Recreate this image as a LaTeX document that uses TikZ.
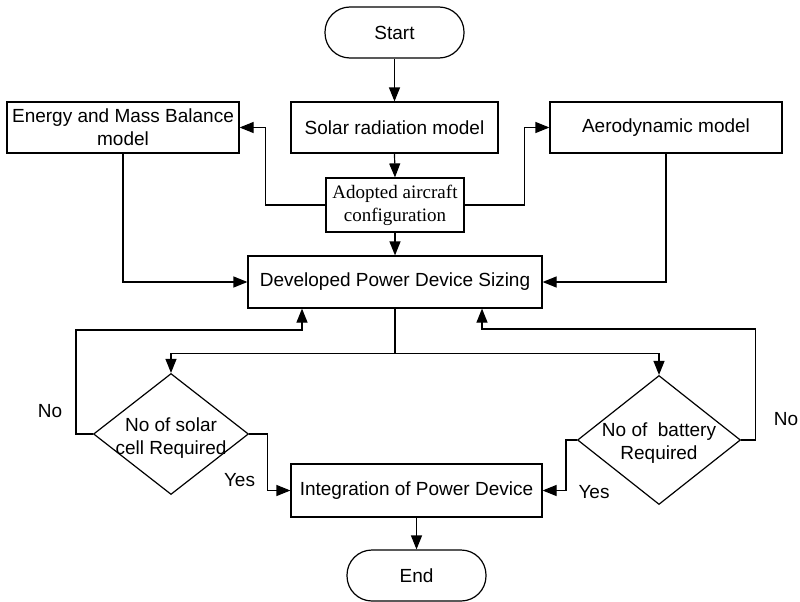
\documentclass[tikz,border=0pt]{standalone}
\usepackage{fontspec}
\setmainfont{Liberation Sans}
\newfontfamily\serifface{Liberation Serif}
\usetikzlibrary{arrows.meta,shapes.geometric}
\begin{document}
\begin{tikzpicture}[x=1pt,y=-1pt,
  font=\fontsize{19}{23}\selectfont,
  every node/.style={inner sep=0pt},
  box/.style={draw,line width=1.2pt,align=center},
  term/.style={draw,line width=1.2pt,rounded corners=25pt,minimum width=139pt,minimum height=51pt},
  dia/.style={draw,line width=1.2pt,diamond,inner sep=0pt},
  arr/.style={line width=1.2pt,-{Triangle[length=14pt,width=11pt]}},
  ln/.style={line width=1.2pt}]
\useasboundingbox (0,0) rectangle (800,602);
\node[term] (start) at (394.5,32.5) {Start};
\node[box,minimum width=207pt,minimum height=51pt] (solar) at (394.5,127.5) {Solar radiation model};
\node[box,minimum width=232pt,minimum height=51pt] (energy) at (123,127.5) {Energy and Mass Balance\\model};
\node[box,minimum width=232pt,minimum height=51pt] (aero) at (666,127.5) {Aerodynamic model};
\node[box,minimum width=138pt,minimum height=54pt,font=\serifface\fontsize{19}{23}\selectfont] (adopted) at (395,205) {Adopted aircraft\\configuration};
\node[box,minimum width=294pt,minimum height=52pt] (dev) at (395,282) {Developed Power Device Sizing};
\node[dia,minimum width=155pt,minimum height=121pt] (d1) at (171,434) {};
\node[align=center] (d1t) at (171,438) {No of solar\\cell Required};
\node[dia,minimum width=163pt,minimum height=129pt] (d2) at (659,440) {};
\node[align=center] (d2t) at (659,443) {No of\ \ battery\\Required};
\node[box,minimum width=251pt,minimum height=53pt] (integ) at (416.5,490.5) {Integration of Power Device};
\node[term] (end) at (416.5,575.5) {End};
\node[anchor=base] (no1) at (50,417) {No};
\node[anchor=base] (no2) at (786,425) {No};
\node[anchor=base] (yes1) at (239.5,486) {Yes};
\node[anchor=base] (yes2) at (594,498) {Yes};

\draw[arr] (start.south) -- (solar.north);
\draw[arr] (solar.south) -- (adopted.north);
\draw[arr] (adopted.west) -- ++(-60,0) |- (energy.east);
\draw[arr] (adopted.east) -- ++(60,0) |- (aero.west);
\draw[arr] (adopted.south) -- (dev.north);
\draw[arr] (energy.south) |- (dev.west);
\draw[arr] (aero.south) |- (dev.east);
\draw[ln] (dev.south) -- ++(0,45) coordinate (split);
\draw[arr] (split) -| (d1.north);
\draw[arr] (split) -| (d2.north);
\draw[arr] (d1.west) -- ++(-17,0) -- ++(0,-104) -| ([xshift=-93pt]dev.south);
\draw[arr] (d2.east) -- ++(14,0) -- ++(0,-111) -| ([xshift=87pt]dev.south);
\draw[arr] (d1.east) -- ++(18,0) |- (integ.west);
\draw[arr] (d2.west) -- ++(-11,0) |- (integ.east);
\draw[arr] (integ.south) -- (end.north);
\end{tikzpicture}
\end{document}
